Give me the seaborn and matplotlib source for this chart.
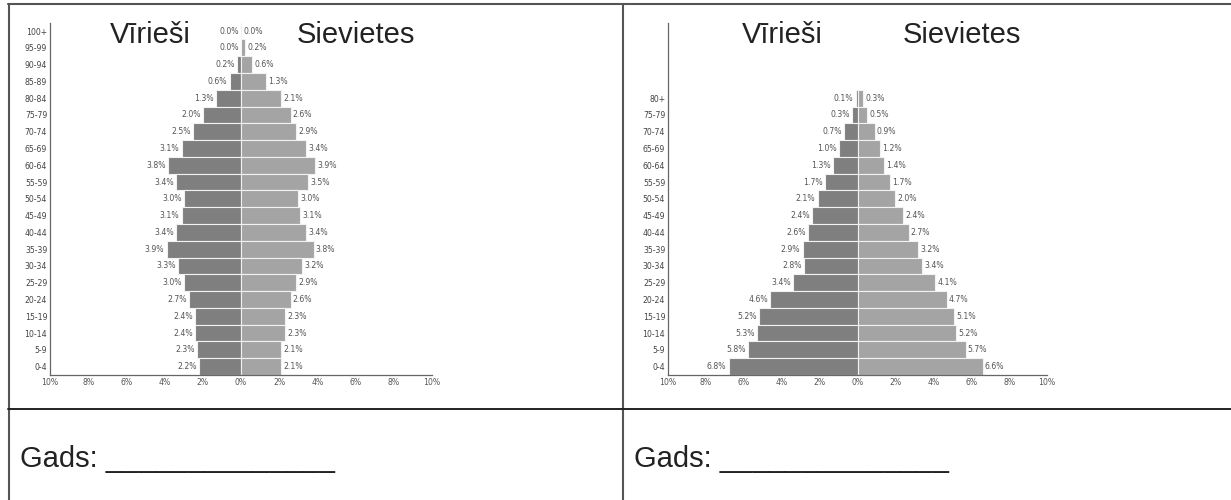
import matplotlib
matplotlib.use("Agg")
import numpy as np
import pandas as pd
import matplotlib.pyplot as plt
import seaborn as sns
from matplotlib.lines import Line2D


# left pyramid (older population)
AGES_A = ["100+", "95-99", "90-94", "85-89", "80-84", "75-79", "70-74",
          "65-69", "60-64", "55-59", "50-54", "45-49", "40-44", "35-39",
          "30-34", "25-29", "20-24", "15-19", "10-14", "5-9", "0-4"]
MALE_A = [0.0, 0.0, 0.2, 0.6, 1.3, 2.0, 2.5, 3.1, 3.8, 3.4, 3.0,
          3.1, 3.4, 3.9, 3.3, 3.0, 2.7, 2.4, 2.4, 2.3, 2.2]
FEMALE_A = [0.0, 0.2, 0.6, 1.3, 2.1, 2.6, 2.9, 3.4, 3.9, 3.5, 3.0,
            3.1, 3.4, 3.8, 3.2, 2.9, 2.6, 2.3, 2.3, 2.1, 2.1]

# right pyramid (young population)
AGES_B = ["80+", "75-79", "70-74", "65-69", "60-64", "55-59", "50-54",
          "45-49", "40-44", "35-39", "30-34", "25-29", "20-24", "15-19",
          "10-14", "5-9", "0-4"]
MALE_B = [0.1, 0.3, 0.7, 1.0, 1.3, 1.7, 2.1, 2.4, 2.6, 2.9, 2.8,
          3.4, 4.6, 5.2, 5.3, 5.8, 6.8]
FEMALE_B = [0.3, 0.5, 0.9, 1.2, 1.4, 1.7, 2.0, 2.4, 2.7, 3.2, 3.4,
            4.1, 4.7, 5.1, 5.2, 5.7, 6.6]

XTICKS = [-10, -8, -6, -4, -2, 0, 2, 4, 6, 8, 10]
XTICK_LABELS = ["10%", "8%", "6%", "4%", "2%", "0%", "2%", "4%", "6%", "8%", "10%"]

TITLE_MALE = "Vīrieši"
TITLE_FEMALE = "Sievietes"
YEAR_TEXT = "Gads: ______________"

W, H = 1231, 500
ROW_SLOTS = 21
MALE_COLOR = "#7f7f7f"
FEMALE_COLOR = "#a4a4a4"
AXIS_COLOR = "#666666"
SMALL = 5.6


def fx(x):
    return x / W


def fy(y):
    return 1 - y / H


def label_bars(ax, container, values, side):
    for patch, v in zip(container.patches, values):
        yc = patch.get_y() + patch.get_height() / 2
        if side == "left":
            x = min(patch.get_x(), patch.get_x() + patch.get_width())
            off, ha = -1.6, "right"
        else:
            x = max(patch.get_x(), patch.get_x() + patch.get_width())
            off, ha = 1.6, "left"
        ax.annotate(f"{v:.1f}%", xy=(x, yc), xytext=(off, 0),
                    textcoords="offset points", ha=ha, va="center",
                    fontsize=SMALL, color="#555555")


def draw_pyramid(ax, ages, male, female):
    df = pd.DataFrame({"age": ages, "male": -np.array(male), "female": female})
    sns.barplot(data=df, x="male", y="age", order=ages, orient="h",
                color=MALE_COLOR, saturation=1, width=1.0,
                edgecolor="#f2f2f2", linewidth=0.8, ax=ax)
    sns.barplot(data=df, x="female", y="age", order=ages, orient="h",
                color=FEMALE_COLOR, saturation=1, width=1.0,
                edgecolor="#f2f2f2", linewidth=0.8, ax=ax)
    label_bars(ax, ax.containers[0], male, "left")
    label_bars(ax, ax.containers[1], female, "right")

    n = len(ages)
    top = n - 0.5 - ROW_SLOTS
    ax.set_ylim(n - 0.5, top)
    ax.set_xlim(-10, 10)
    ax.set_xticks(XTICKS, labels=XTICK_LABELS)
    ax.get_xticklabels()[5].set_color("#111111")
    ax.set_xlabel("")
    ax.set_ylabel("")

    for side in ["top", "right"]:
        ax.spines[side].set_visible(False)
    for side in ["left", "bottom"]:
        ax.spines[side].set_color(AXIS_COLOR)
        ax.spines[side].set_linewidth(0.9)

    ax.tick_params(axis="x", direction="in", length=3, width=0.8,
                   color=AXIS_COLOR, labelsize=SMALL, labelcolor="#555555", pad=2.5)
    ax.tick_params(axis="y", which="major", length=0, labelsize=SMALL,
                   labelcolor="#444444", pad=2)
    ax.set_yticks([top], minor=True)
    ax.tick_params(axis="y", which="minor", length=3, width=0.8,
                   direction="out", color=AXIS_COLOR)


def main():
    sns.set_style("white")
    plt.rcParams["font.family"] = ["DejaVu Sans"]

    fig = plt.figure(figsize=(W / 100, H / 100), dpi=100)

    ax_a = fig.add_axes([fx(50), fy(375), fx(432) - fx(50), fy(22.7) - fy(375)])
    ax_b = fig.add_axes([fx(668), fy(375), fx(1047) - fx(668), fy(22.7) - fy(375)])
    draw_pyramid(ax_a, AGES_A, MALE_A, FEMALE_A)
    draw_pyramid(ax_b, AGES_B, MALE_B, FEMALE_B)

    big = dict(fontsize=21, color="#222222", family=["Liberation Sans", "DejaVu Sans"],
               va="baseline", ha="center")
    fig.text(fx(150), fy(43), TITLE_MALE, **big)
    fig.text(fx(356), fy(43), TITLE_FEMALE, **big)
    fig.text(fx(782), fy(43), TITLE_MALE, **big)
    fig.text(fx(962), fy(43), TITLE_FEMALE, **big)

    year = dict(big, ha="left")
    fig.text(fx(20), fy(467), YEAR_TEXT, **year)
    fig.text(fx(634), fy(467), YEAR_TEXT, **year)

    # table grid around the two charts
    grid = [
        ([8, W], [4.3, 4.3], "#555555", 1.5),
        ([8.5, 8.5], [4, H], "#555555", 1.5),
        ([623, 623], [4, H], "#555555", 1.5),
        ([8, W], [409, 409], "#222222", 1.4),
    ]
    for xs, ys, col, lw in grid:
        fig.add_artist(Line2D([fx(x) for x in xs], [fy(y) for y in ys],
                              transform=fig.transFigure, color=col, linewidth=lw))

    fig.savefig("out.png", dpi=100)


if __name__ == "__main__":
    main()
